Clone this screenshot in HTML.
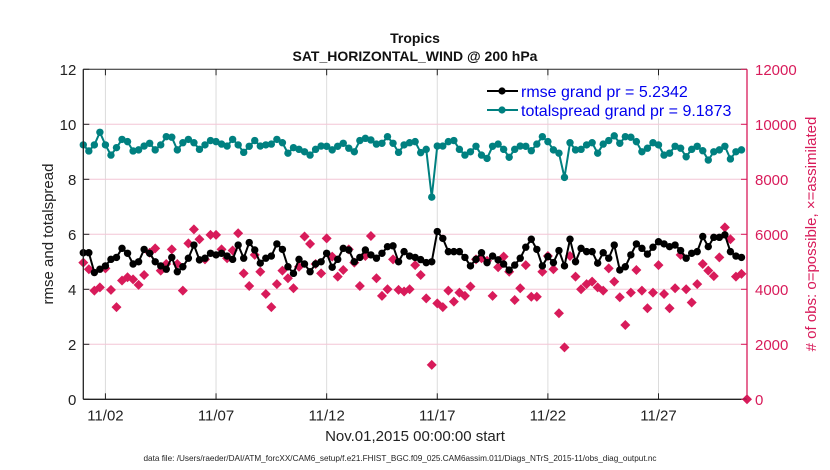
<!DOCTYPE html>
<html><head><meta charset="utf-8"><style>
body{margin:0;background:#fff;}
svg{display:block;font-family:"Liberation Sans",sans-serif;}
</style></head><body>
<svg id="chart" width="830" height="470" viewBox="0 0 830 470">
<rect width="830" height="470" fill="#fff"/>
<g id="grid"></g>
<g id="marks"></g>
<g id="axes"></g>
</svg>
<script>
const dateTicks = ["11/02","11/07","11/12","11/17","11/22","11/27"];
const dateTickDays = [1,6,11,16,21,26];
const leftTicks = [0,2,4,6,8,10,12];
const rightTicks = [0,2000,4000,6000,8000,10000,12000];
const rmse = [5.33,5.33,4.61,4.73,4.85,5.09,5.16,5.49,5.31,4.92,5.0,5.45,5.31,5.0,4.85,4.73,5.16,4.64,4.82,5.13,5.61,5.07,5.13,5.31,5.25,5.31,5.21,5.09,5.61,5.13,
5.7,5.43,4.95,5.13,5.21,5.65,5.45,4.82,4.58,5.09,4.92,4.64,4.92,5.0,5.31,4.8,5.09,5.49,5.43,5.0,5.16,5.43,5.25,5.13,5.31,5.55,5.58,5.0,5.37,5.21,
5.16,5.08,4.97,5.0,6.1,5.85,5.37,5.37,5.37,5.16,4.85,5.09,5.33,4.97,5.21,5.07,4.92,4.7,4.88,5.13,5.53,5.82,5.45,4.85,5.19,4.97,5.41,4.85,5.82,5.0,
5.49,5.37,5.37,4.95,5.33,5.13,5.61,4.7,4.82,5.25,5.65,5.49,5.28,5.53,5.73,5.65,5.55,5.61,5.41,5.13,5.31,5.37,5.92,5.55,5.89,5.89,5.98,5.37,5.21,5.16];
const spread = [9.25,9.03,9.25,9.71,9.25,8.88,9.15,9.45,9.37,9.03,9.07,9.21,9.31,9.07,9.25,9.55,9.53,9.07,9.33,9.45,9.33,9.09,9.25,9.41,9.37,9.28,9.21,9.45,9.25,8.98,
9.2,9.41,9.21,9.25,9.28,9.45,9.33,8.95,9.15,9.09,9.0,8.88,9.09,9.21,9.2,9.07,9.2,9.31,9.13,9.0,9.41,9.49,9.43,9.28,9.31,9.55,9.31,8.98,9.25,9.33,
9.37,8.97,9.09,7.35,9.21,9.21,9.37,9.41,9.09,8.88,9.0,9.2,8.88,8.76,9.2,9.28,9.09,8.8,9.09,9.21,9.2,9.04,9.28,9.55,9.37,9.07,8.95,8.07,9.33,9.07,
9.09,9.25,9.33,8.95,9.28,9.41,9.58,9.31,9.55,9.53,9.37,9.0,9.13,9.33,9.25,8.88,8.95,9.2,9.13,8.82,9.09,9.2,9.04,8.7,9.0,9.07,9.2,8.74,9.0,9.07];
const obsCount = [4970,4730,3950,4070,4760,3980,3350,4320,4440,4360,4160,4520,5330,5490,4680,4920,5450,4920,3950,5670,6180,5820,5090,5980,5980,5450,5130,5410,6040,4580,
4120,5250,4640,3830,3350,4190,4680,4400,4040,4820,5920,5650,4920,4580,5850,5190,4460,4700,5450,4970,4120,5210,5940,4400,3760,4000,5090,3980,3920,4000,
4880,4520,3670,1250,3490,3350,3950,3550,3880,3760,4100,5090,5130,5040,3760,4800,5190,4640,3610,4040,4880,3730,3730,4640,5210,4730,3130,1890,5210,4460,
4000,4190,4280,4070,3950,4760,4280,3710,2700,3880,4700,3950,3310,3880,4880,3830,3310,4040,5250,4000,3520,4190,4920,4680,4480,5160,6250,5820,4460,4560,0];

const X0=83.3, X1=747, Y0=399.3, Y1=69.3;
const xDay = d => X0 + (X1-X0)*d/30;
const xIdx = i => xDay(i/4);
const yL = v => Y0 - (Y0-Y1)*v/12;
const yR = v => Y0 - (Y0-Y1)*v/12000;
const NS="http://www.w3.org/2000/svg";
function mk(tag, attrs, parent, text){
  const e=document.createElementNS(NS,tag);
  for(const k in attrs) e.setAttribute(k,attrs[k]);
  if(text!==undefined) e.textContent=text;
  parent.appendChild(e); return e;
}
const grid=document.getElementById('grid'), marks=document.getElementById('marks'), axes=document.getElementById('axes');

dateTickDays.forEach((d,k)=>{
  const l=mk('line',{x1:xDay(d),x2:xDay(d),y1:Y1,y2:Y0,stroke:'#dcdcdc','stroke-width':1},grid);
  
  
});
leftTicks.forEach(v=>{
  if(v===0||v===12) return;
  const l=mk('line',{x1:X0,x2:X1,y1:yL(v),y2:yL(v),stroke:'#f3c6d6','stroke-width':1},grid);
  
  
});

obsCount.forEach((c,i)=>{
  const x=xIdx(i), y=yR(c), s=5;
  const p=mk('polygon',{points:`${x},${y-s} ${x+s},${y} ${x},${y+s} ${x-s},${y}`,fill:'#d81b5a'},marks);
  
  
});
function series(vals,color,name){
  const pl=mk('polyline',{points:vals.map((v,i)=>xIdx(i)+','+yL(v)).join(' '),fill:'none',stroke:color,'stroke-width':2},marks);
  
  
  vals.forEach((v,i)=>{
    const c=mk('circle',{cx:xIdx(i),cy:yL(v),r:3.7,fill:color},marks);
    
    
  });
}
series(spread,'#008080','totalspread');
series(rmse,'#000','rmse');

let a;
a=mk('line',{x1:X0,x2:X0,y1:Y1,y2:Y0,stroke:'#222','stroke-width':1.3},axes);

a=mk('line',{x1:X0,x2:X1,y1:Y0,y2:Y0,stroke:'#222','stroke-width':1.3},axes);

a=mk('line',{x1:X1,x2:X1,y1:Y1,y2:Y0,stroke:'#d81b5a','stroke-width':1.3},axes);

a=mk('line',{x1:X0,x2:X1,y1:Y1,y2:Y1,stroke:'#222','stroke-width':1},axes);


dateTickDays.forEach((d,k)=>{
  mk('line',{x1:xDay(d),x2:xDay(d),y1:Y0,y2:Y0-6,stroke:'#222'},axes);
  mk('line',{x1:xDay(d),x2:xDay(d),y1:Y1,y2:Y1+6,stroke:'#222'},axes);
  const t=mk('text',{x:xDay(d),y:Y0+21,'text-anchor':'middle','font-size':15,fill:'#222'},axes,dateTicks[k]);
  
  
});
leftTicks.forEach(v=>{
  mk('line',{x1:X0,x2:X0+6,y1:yL(v),y2:yL(v),stroke:'#222'},axes);
  const t=mk('text',{x:X0-7,y:yL(v)+5.5,'text-anchor':'end','font-size':15,fill:'#222'},axes,String(v));
  
  
});
rightTicks.forEach(v=>{
  mk('line',{x1:X1,x2:X1-6,y1:yR(v),y2:yR(v),stroke:'#d81b5a'},axes);
  const t=mk('text',{x:X1+8,y:yR(v)+5.5,'text-anchor':'start','font-size':15,fill:'#d81b5a'},axes,String(v));
  
  
});
</script>
<svg width="830" height="470" style="position:absolute;left:0;top:0;font-family:'Liberation Sans',sans-serif">
<text x="415" y="43" text-anchor="middle" font-size="14" font-weight="bold" fill="#111">Tropics</text>
<text x="415" y="61" text-anchor="middle" font-size="14" font-weight="bold" fill="#111">SAT_HORIZONTAL_WIND @ 200 hPa</text>
<g>
<rect x="484" y="80" width="258" height="38" fill="#fff"/>
<g>
<line x1="487" x2="518" y1="91" y2="91" stroke="#000" stroke-width="2"/><circle cx="502" cy="91" r="3.6" fill="#000"/>
<text x="521" y="97" font-size="16" fill="#0000ee">rmse grand pr = 5.2342</text></g>
<g>
<line x1="487" x2="518" y1="110" y2="110" stroke="#008080" stroke-width="2"/><circle cx="502" cy="110" r="3.6" fill="#008080"/>
<text x="521" y="116" font-size="16" fill="#0000ee">totalspread grand pr = 9.1873</text></g>
</g>
<text x="0" y="0" transform="translate(53,234) rotate(-90)" text-anchor="middle" font-size="15" fill="#222">rmse and totalspread</text>
<text x="0" y="0" transform="translate(816,234) rotate(-90)" text-anchor="middle" font-size="15" fill="#d81b5a"># of obs: o=possible, ×=assimilated</text>
<text x="415" y="441" text-anchor="middle" font-size="15" fill="#222">Nov.01,2015 00:00:00 start</text>
<text x="400" y="461" text-anchor="middle" font-size="8.2" fill="#222">data file: /Users/raeder/DAI/ATM_forcXX/CAM6_setup/f.e21.FHIST_BGC.f09_025.CAM6assim.011/Diags_NTrS_2015-11/obs_diag_output.nc</text>
</svg>
</body></html>
